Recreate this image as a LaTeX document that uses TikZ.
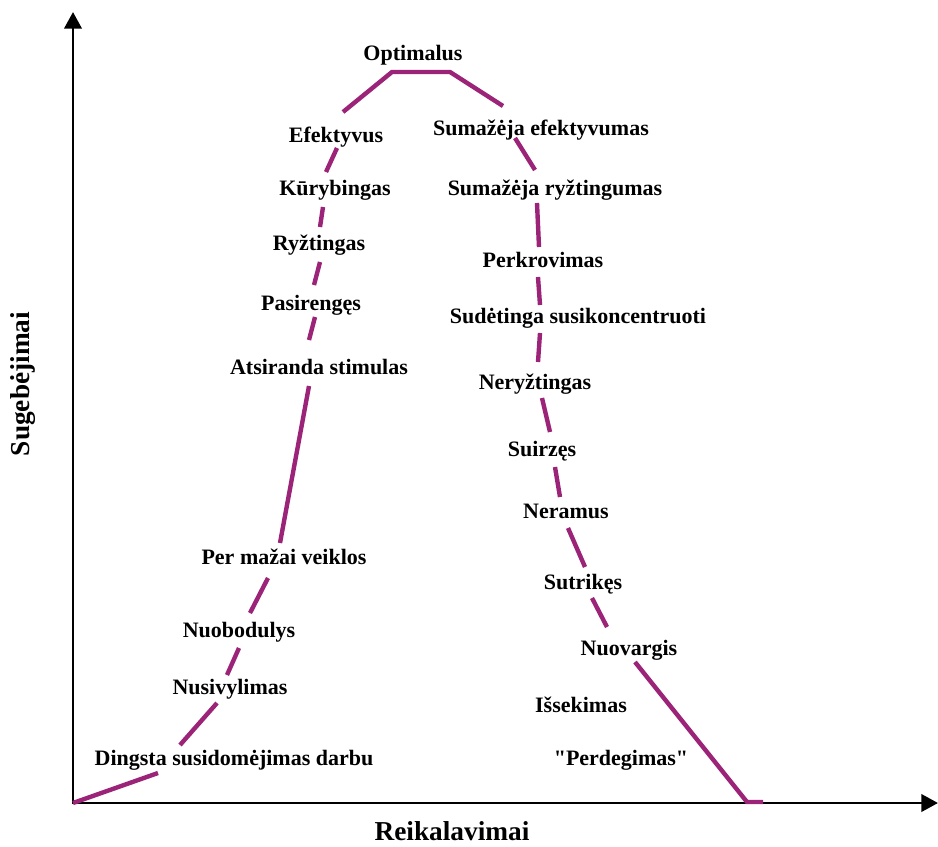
\documentclass[tikz,border=0pt]{standalone}
\usepackage{fontspec}
\setmainfont{Liberation Serif}
\usetikzlibrary{arrows.meta}
\definecolor{curvecol}{RGB}{155,35,120}
% straight double quote, set as a glyph so the TeX ligature mapping leaves it alone
\newcommand\strquote{\XeTeXglyph\XeTeXglyphindex "quotedbl"\relax}
\begin{document}
\begin{tikzpicture}[x=0.75pt,y=-0.75pt,
  lbl/.style={font=\fontsize{16.5}{19}\selectfont\bfseries, inner sep=0pt,
              text height=0.68em, text depth=0.2em, yshift=-3pt},
  axlbl/.style={font=\fontsize{20.5}{24}\selectfont\bfseries, inner sep=0pt,
              text height=0.68em, text depth=0.2em},
  axis/.style={line width=2.2pt, {Triangle[length=12.5pt,width=13pt]}-{Triangle[length=12.5pt,width=13pt]}},
  seg/.style={draw=curvecol, line width=3.3pt}]
\useasboundingbox (0,0) rectangle (938,846);

% axes
\coordinate (ytop) at (73,12);
\coordinate (O) at (73,803);
\coordinate (xend) at (938,803);
\draw[axis] (ytop) -- (O) -- (xend);

\node[axlbl, rotate=90] (ylab) at (26,384) {Sugebėjimai};
\node[axlbl] (xlab) at (452,837) {Reikalavimai};

% the curve, interrupted by its labels
\foreach \a/\b in {{(73,803)}/{(158,773)}, {(180,745)}/{(217,703)},
                   {(227,675)}/{(239,648)}, {(250,613)}/{(268,578)},
                   {(280,543)}/{(309,386)}, {(309,340)}/{(315,317)},
                   {(314,285)}/{(320,262)}, {(320,227)}/{(323,207)},
                   {(326,172)}/{(337,148)},
                   {(515,138)}/{(535,170)}, {(537,203)}/{(539,247)},
                   {(538,277)}/{(540,305)}, {(540,333)}/{(538,362)},
                   {(542,398)}/{(550,432)}, {(555,467)}/{(560,497)},
                   {(568,528)}/{(585,567)}, {(592,598)}/{(607,627)}}
  \draw[seg] \a -- \b;
\draw[seg] (343,112) -- (392,72) -- (450,72) -- (503,106);
\draw[seg] (635,662) -- (747,802) -- (763,802);

% rising side
\node[lbl] (n1)  at (413,53)  {Optimalus};
\node[lbl] (l1)  at (336,135) {Efektyvus};
\node[lbl] (l2)  at (335,188) {Kūrybingas};
\node[lbl] (l3)  at (319,243) {Ryžtingas};
\node[lbl] (l4)  at (311,303) {Pasirengęs};
\node[lbl] (l5)  at (319,367) {Atsiranda stimulas};
\node[lbl] (l6)  at (284,557) {Per mažai veiklos};
\node[lbl] (l7)  at (239,630) {Nuobodulys};
\node[lbl] (l8)  at (230,687) {Nusivylimas};
\node[lbl] (l9)  at (234,758) {Dingsta susidomėjimas darbu};

% falling side
\node[lbl] (r1)  at (541,128) {Sumažėja efektyvumas};
\node[lbl] (r2)  at (555,188) {Sumažėja ryžtingumas};
\node[lbl] (r3)  at (543,260) {Perkrovimas};
\node[lbl] (r4)  at (578,316) {Sudėtinga susikoncentruoti};
\node[lbl] (r5)  at (535,382) {Neryžtingas};
\node[lbl] (r6)  at (542,449) {Suirzęs};
\node[lbl] (r7)  at (566,511) {Neramus};
\node[lbl] (r8)  at (583,582) {Sutrikęs};
\node[lbl] (r9)  at (629,648) {Nuovargis};
\node[lbl] (r10) at (581,705) {Išsekimas};
\node[lbl] (r11) at (621,758) {\strquote Perdegimas\strquote};
\end{tikzpicture}
\end{document}
